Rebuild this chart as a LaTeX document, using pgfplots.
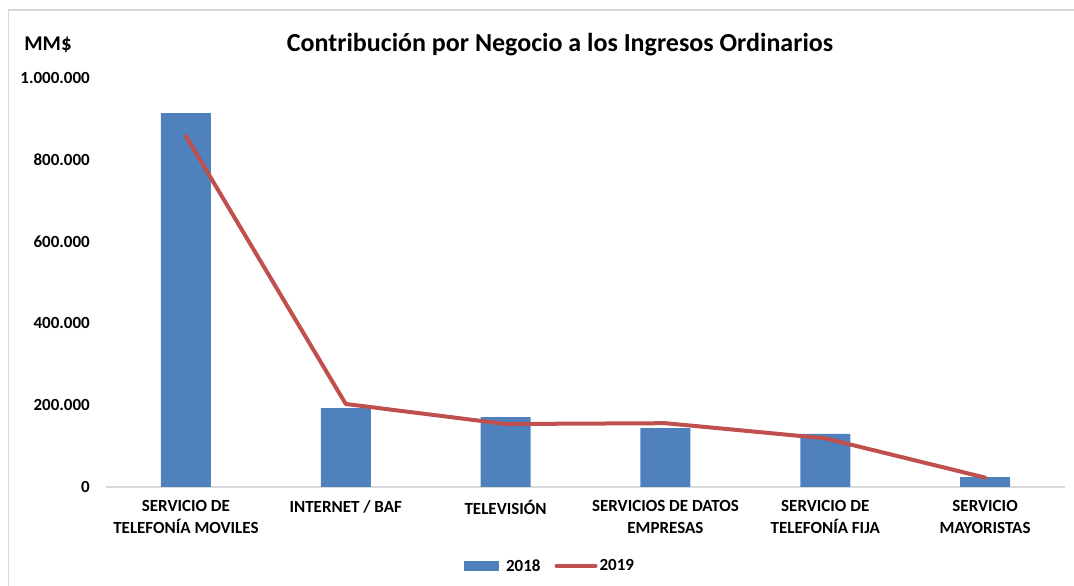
\documentclass[border=0pt]{standalone}
\usepackage{pgfplots}
\pgfplotsset{compat=1.18}
\usepackage{fontspec}
\setmainfont{Carlito}
\definecolor{barblue}{HTML}{4F81BD}
\definecolor{linered}{HTML}{C0504D}
\definecolor{framegray}{HTML}{D9D9D9}
\begin{document}
\begin{tikzpicture}
\useasboundingbox (0,0) rectangle (1074pt,586pt);
\draw[framegray, line width=1.5pt] (8.5pt,0) -- (8.5pt,576pt) -- (1074pt,576pt);
\node[font=\bfseries\fontsize{26}{30}\selectfont] at (560pt,541pt) {Contribución por Negocio a los Ingresos Ordinarios};
\node[font=\bfseries\fontsize{21}{24}\selectfont] at (48pt,541pt) {MM\$};
\begin{axis}[
  at={(106pt,99pt)}, anchor=south west,
  scale only axis, width=959pt, height=409pt,
  xmin=-0.5, xmax=5.5, ymin=0, ymax=1000000,
  axis x line*=bottom, axis y line*=left,
  y axis line style={draw=none},
  x axis line style={draw=framegray, line width=1.5pt, -},
  major tick length=0pt,
  xtick=data,
  xticklabels={{SERVICIO DE\\TELEFONÍA MOVILES},{INTERNET / BAF},{TELEVISIÓN},{SERVICIOS DE DATOS\\EMPRESAS},{SERVICIO DE\\TELEFONÍA FIJA},{SERVICIO\\MAYORISTAS}},
  xticklabel style={align=center, anchor=north, inner sep=0pt, yshift=-13pt, font=\bfseries\fontsize{17}{22}\selectfont},
  ytick={0,200000,400000,600000,800000,1000000},
  scaled y ticks=false,
  yticklabel style={anchor=east, inner sep=0pt, xshift=-16pt, font=\bfseries\fontsize{17}{20}\selectfont},
  /pgf/number format/assume math mode=true,
  /pgf/number format/fixed,
  /pgf/number format/1000 sep={.},
  legend columns=2,
  legend style={at={(0.463,-0.193)}, anchor=center, draw=none, fill=none,
     font=\bfseries\fontsize{17}{20}\selectfont,
     /tikz/every even column/.append style={column sep=12pt}},
  legend cell align=left,
]
\addplot[ybar, bar width=50pt, fill=barblue, draw=none,
  legend image code/.code={\fill[barblue] (0pt,-5pt) rectangle (35pt,5pt); \path (0pt,0pt) -- (40pt,0pt);}]
  coordinates {(0,914000) (1,193000) (2,171000) (3,144000) (4,130000) (5,24000)};
\addlegendentry{2018}
\addplot[linered, line width=4pt, mark=none, line join=round, line cap=round,
  legend image code/.code={\draw[linered, line width=4pt, line cap=round] (2pt,0pt) -- (37pt,0pt); \path (0pt,0pt) -- (39pt,0pt);}]
  coordinates {(0,858000) (1,203000) (2,154000) (3,156000) (4,119000) (5,23000)};
\addlegendentry{2019}
\end{axis}
\end{tikzpicture}
\end{document}
